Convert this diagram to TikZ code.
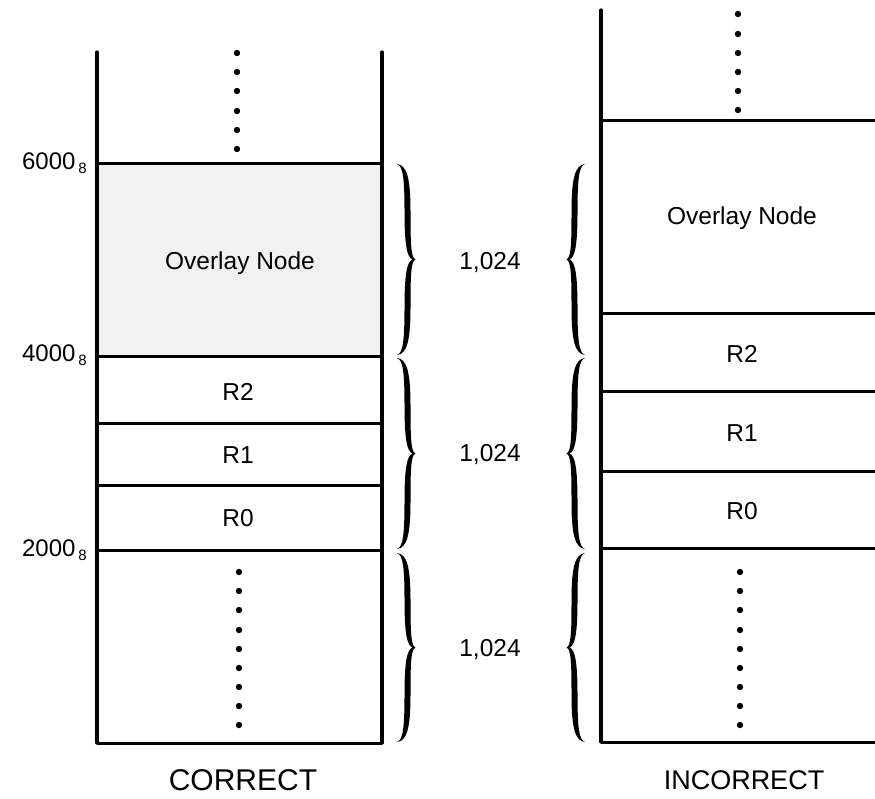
\documentclass[tikz,border=0pt]{standalone}
\usepackage{fontspec}
\setmainfont{Liberation Sans}
\newcommand\drawbrace[4]{% #1 base x, #2 top y, #3 bottom y, #4 direction (1 right, -1 left)
  \pgfmathsetmacro\bmid{(#2+#3)/2}\pgfmathsetmacro\bh{(#3-#2)/2}%
  \begin{scope}[shift={(#1,\bmid)}, yscale=\bh, xscale=#4]
    \fill (0,-1) .. controls (10,-0.99) and (13.5,-0.85) .. (13.5,-0.5)
      .. controls (13.5,-0.15) and (14,-0.02) .. (18.5,0)
      .. controls (14,0.02) and (13.5,0.15) .. (13.5,0.5)
      .. controls (13.5,0.85) and (10,0.99) .. (0,1)
      .. controls (6,0.98) and (7.5,0.85) .. (7.5,0.5)
      .. controls (7.5,0.15) and (10,0.02) .. (15.5,0)
      .. controls (10,-0.02) and (7.5,-0.15) .. (7.5,-0.5)
      .. controls (7.5,-0.85) and (6,-0.98) .. (0,-1) -- cycle;
  \end{scope}}
\newcommand\octsub{\hspace{3pt}\raisebox{-4pt}{\fontsize{15}{16}\selectfont 8}}
\begin{document}
\begin{tikzpicture}[x=1pt,y=-1pt,
  wall/.style={line width=3.2pt, line cap=round},
  shelf/.style={line width=3pt},
  lbl/.style={font=\fontsize{24.5}{27}\selectfont, inner sep=0pt},
  addr/.style={font=\fontsize{24}{26}\selectfont, inner sep=0pt, anchor=east},
  cnt/.style={font=\fontsize{24.5}{27}\selectfont, inner sep=0pt},
  capt/.style={font=\fontsize{27}{30}\selectfont, inner sep=0pt},
  memdot/.style={fill=black}
]
\useasboundingbox (0,0) rectangle (875,798);
% left column (CORRECT)
\fill[gray!11] (97,163) rectangle (382,356);
\draw[wall] (97,52) -- (97,743);
\draw[wall] (382,52) -- (382,743);
\foreach \y in {163,356,423,485,550,743} \draw[shelf] (97,\y) -- (382,\y);
\foreach \y in {53,72,91,111,130,149} \fill[memdot] (237,\y) circle (3.2);
\foreach \y in {572,591,610,630,649,668,687,706,725} \fill[memdot] (239,\y) circle (3.2);
\node[lbl] (lov) at (240,263) {Overlay Node};
\node[lbl] (lr2) at (238,392) {R2};
\node[lbl] (lr1) at (238,455) {R1};
\node[lbl] (lr0) at (238,518) {R0};
\node[addr] (a6) at (87,163) {6000\octsub};
\node[addr] (a4) at (87,355) {4000\octsub};
\node[addr] (a2) at (87,550) {2000\octsub};
\node[capt, font=\fontsize{30}{33}\selectfont] (cor) at (243,780) {CORRECT};
% right column (INCORRECT)
\draw[wall] (601,10) -- (601,742);
\foreach \y in {120,313,391,471,548,742} \draw[shelf] (601,\y) -- (876,\y);
\foreach \y in {14,34,53,72,91,110} \fill[memdot] (738,\y) circle (3.2);
\foreach \y in {572,591,610,630,649,668,687,706,725} \fill[memdot] (740,\y) circle (3.2);
\node[lbl] (rov) at (742,218) {Overlay Node};
\node[lbl] (rr2) at (742,354) {R2};
\node[lbl] (rr1) at (742,433) {R1};
\node[lbl] (rr0) at (742,511) {R0};
\node[capt] (inc) at (744,780) {INCORRECT};
% braces and counts
\drawbrace{397}{164}{355}{1}
\drawbrace{397}{358}{549}{1}
\drawbrace{397}{553}{742}{1}
\drawbrace{585}{164}{355}{-1}
\drawbrace{585}{358}{549}{-1}
\drawbrace{585}{553}{742}{-1}
\node[cnt] (c1) at (490,263) {1,024};
\node[cnt] (c2) at (490,455) {1,024};
\node[cnt] (c3) at (490,650) {1,024};
\end{tikzpicture}
\end{document}
